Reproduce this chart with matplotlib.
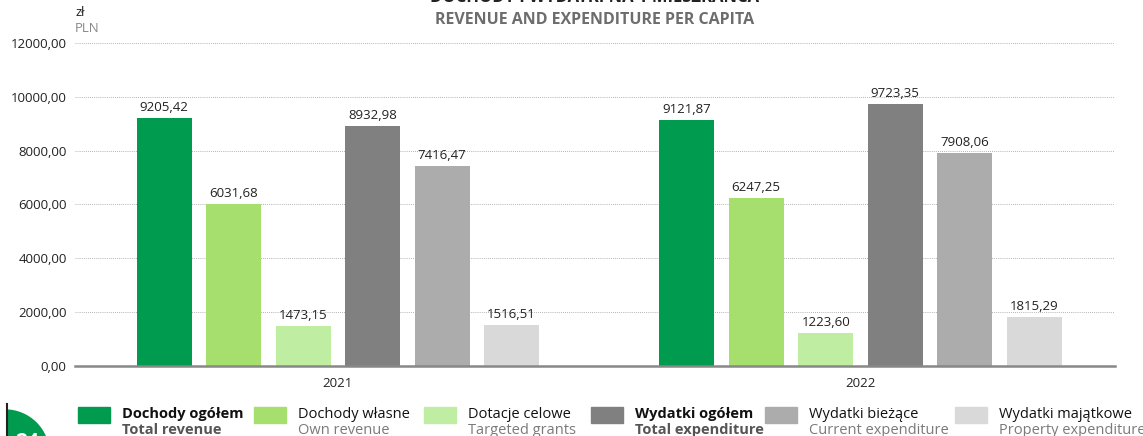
import matplotlib.pyplot as plt
from matplotlib.patches import Rectangle, Ellipse
import numpy as np

plt.rcParams['font.family'] = ['Open Sans', 'DejaVu Sans']

years = ['2021', '2022']
names_pl = ['Dochody ogółem', 'Dochody własne', 'Dotacje celowe',
            'Wydatki ogółem', 'Wydatki bieżące', 'Wydatki majątkowe']
names_en = ['Total revenue', 'Own revenue', 'Targeted grants',
            'Total expenditure', 'Current expenditure', 'Property expenditure']
values_2021 = [9205.42, 6031.68, 1473.15, 8932.98, 7416.47, 1516.51]
values_2022 = [9121.87, 6247.25, 1223.60, 9723.35, 7908.06, 1815.29]
yticks = [0, 2000, 4000, 6000, 8000, 10000, 12000]

colors = ['#009b4e', '#a6df6e', '#bfeea2', '#808080', '#acacac', '#d9d9d9']
bold = [True, False, False, True, False, False]

W, H = 1143, 436


def pl_fmt(v):
    return f'{v:.2f}'.replace('.', ',')


fig = plt.figure(figsize=(W / 100, H / 100), dpi=100)
ax = fig.add_axes([75 / W, 1 - 366 / H, 1040 / W, 323 / H])

data = np.array([values_2021, values_2022])
x = np.arange(len(years))
step = 0.133
width = 0.105
for i in range(len(names_pl)):
    pos = x + (i - 2.5) * step
    bars = ax.bar(pos, data[:, i], width=width, color=colors[i], zorder=3)
    for b, v in zip(bars, data[:, i]):
        ax.text(b.get_x() + b.get_width() / 2, v + 150, pl_fmt(v),
                ha='center', va='bottom', fontsize=9.5, color='#222222')

ax.set_xlim(-0.503, 1.487)
ax.set_ylim(0, 12000)
ax.set_yticks(yticks)
ax.set_yticklabels([pl_fmt(v) for v in yticks], fontsize=9.5, color='#222222')
ax.set_xticks(x)
ax.set_xticklabels(years, fontsize=9.5, color='#222222')
ax.tick_params(length=0, pad=6)
ax.tick_params(axis='x', pad=8)
ax.grid(axis='y', linestyle=(0, (1, 1.5)), color='#9a9a9a', linewidth=0.6, zorder=0)
for s in ax.spines.values():
    s.set_visible(False)
ax.axhline(0, color='#888888', linewidth=1.8, zorder=4, clip_on=False)

# unit label
fig.text(75 / W, 1 - 12 / H, 'zł', fontsize=9.5, color='#222222', va='center')
fig.text(75 / W, 1 - 28 / H, 'PLN', fontsize=9.5, color='#888888', va='center')

# titles
fig.text(595 / W, 1 + 3 / H, 'DOCHODY I WYDATKI NA 1 MIESZKAŃCA', fontsize=12,
         fontweight='bold', color='#222222', ha='center', va='center')
fig.text(595 / W, 1 - 20 / H, 'REVENUE AND EXPENDITURE PER CAPITA', fontsize=11.5,
         fontweight='bold', color='#6d6d6d', ha='center', va='center')

# legend
patch_x = [78, 254, 424, 591, 765, 955]
for i in range(len(names_pl)):
    px = patch_x[i] / W
    fig.patches.append(Rectangle((px, 1 - 423 / H), 32 / W, 16 / H,
                                 transform=fig.transFigure, color=colors[i]))
    tx = (patch_x[i] + 44) / W
    w = 'bold' if bold[i] else 'normal'
    fig.text(tx, 1 - 414 / H, names_pl[i], fontsize=10.5, fontweight=w,
             color='#111111', va='center')
    fig.text(tx, 1 - 430 / H, names_en[i], fontsize=10.5, fontweight=w,
             color='#555555' if bold[i] else '#7a7a7a', va='center')

# page badge, clipped at the margin rule
badge = Ellipse((5 / W, 1 - 454 / H), 88 / W, 88 / H,
                transform=fig.transFigure, color='#009b4e')
fig.patches.append(badge)
clip = Rectangle((8 / W, 0), 60 / W, 40 / H, transform=fig.transFigure)
badge.set_clip_path(clip)
fig.lines.append(plt.Line2D([7 / W, 7 / W], [0, 1 - 404 / H],
                            transform=fig.transFigure, color='#222222', linewidth=1.5))
fig.text(27 / W, 1 - 442 / H, '24', fontsize=15, fontweight='bold',
         color='white', ha='center', va='center')

fig.savefig('out.png', dpi=100)
